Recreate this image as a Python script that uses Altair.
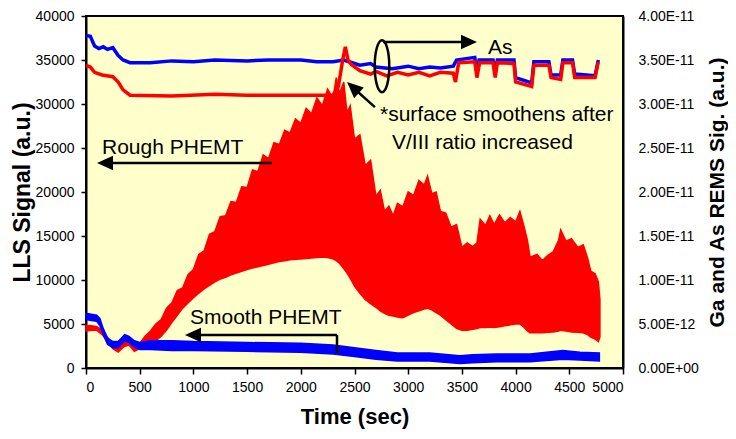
import altair as alt
import pandas as pd

# ---- LLS red (Rough PHEMT): envelope of the fast oscillation (left axis) ----
red_t  = [0, 50, 100, 150, 200, 250, 300, 350, 400, 450, 500, 550, 600, 650, 700, 750, 800,
          850, 900, 950, 1000, 1050, 1100, 1150, 1200, 1250, 1300, 1350, 1400, 1450, 1500,
          1550, 1600, 1650, 1700, 1750, 1800, 1850, 1900, 1950, 2000, 2050, 2100, 2150,
          2200, 2250, 2300, 2330, 2360, 2400, 2430, 2460, 2500, 2550, 2600, 2650, 2700,
          2740, 2780, 2820, 2860, 2900, 2950, 3000, 3050, 3100, 3150, 3180, 3220, 3260,
          3300, 3350, 3400, 3450, 3500, 3550, 3600, 3640, 3670, 3720, 3760, 3800, 3850,
          3900, 3950, 4000, 4040, 4080, 4110, 4135, 4200, 4250, 4300, 4350, 4400, 4420,
          4470, 4520, 4580, 4630, 4670, 4700, 4740, 4770, 4785]
red_lo = [4200, 4300, 4300, 3800, 3000, 2200, 1800, 2400, 2600, 1900, 2200, 2500, 2800,
          3100, 3600, 4300, 5200, 6000, 6800, 7400, 8000, 8500, 9000, 9400, 9800, 10100,
          10300, 10600, 10800, 11000, 11200, 11350, 11500, 11650, 11800, 11950, 12100,
          12200, 12300, 12350, 12400, 12450, 12500, 12550, 12600, 12550, 12400, 12200,
          11900, 11300, 10800, 10200, 9300, 8500, 7800, 7300, 6900, 6500, 6200, 6000,
          5900, 5800, 5700, 6000, 6300, 6500, 6700, 6800, 6600, 6300, 6000, 5500, 5000,
          4500, 4300, 4300, 4400, 4500, 4600, 4600, 4650, 4600, 4700, 4800, 4900, 5000,
          5000, 4600, 4200, 4000, 4000, 4000, 4050, 4100, 4200, 4300, 4200, 4100, 4050,
          4000, 3800, 3500, 3300, 3000, 3500]
red_hi = [4800, 4800, 4700, 4300, 3500, 2700, 2300, 2900, 3200, 2400, 2800, 3600, 4200,
          5000, 5500, 6800, 7400, 8800, 9100, 10600, 11200, 12900, 13300, 15200, 15500,
          17200, 17300, 18900, 18800, 20600, 20500, 22500, 22300, 24200, 23800, 25600,
          25400, 27000, 26700, 28300, 27800, 29500, 28900, 30700, 29800, 31700, 30600,
          33000, 31200, 32500, 29000, 29800, 26000, 26500, 23000, 23600, 19500, 20200,
          17800, 18400, 17300, 18700, 18300, 20000, 19600, 21300, 20800, 21800, 19800,
          20000, 17800, 17600, 16000, 16300, 13700, 14200, 13800, 14200, 16900, 16200,
          17300, 16300, 17400, 16500, 17100, 16600, 17800, 16000, 14500, 12600, 12900,
          12200, 12800, 13200, 14500, 15700, 14400, 14700, 13700, 14000, 12500, 11000,
          10700, 9800, 7800]

# ---- LLS blue (Smooth PHEMT) band (left axis) ----
blue_t  = [0, 50, 100, 130, 160, 200, 250, 300, 360, 400, 450, 500, 600, 800, 1000, 1500,
           2000, 2300, 2500, 2700, 2900, 3200, 3480, 3600, 3825, 4135, 4440, 4600, 4780]
blue_lo = [5500, 5400, 5300, 4800, 3800, 2700, 2300, 2300, 3100, 2900, 2400, 2100, 2100,
           2000, 2000, 1900, 1800, 1600, 1300, 1000, 800, 800, 500, 600, 700, 700, 1000,
           900, 800]
blue_hi = [6200, 6100, 6000, 5600, 4500, 3400, 3000, 3000, 3800, 3600, 3100, 2900, 3100,
           3100, 3000, 2900, 2800, 2600, 2300, 2000, 1700, 1700, 1400, 1500, 1600, 1600,
           2000, 1800, 1700]

# ---- REMS signals (right axis, units of 1E-11) ----
remsb_t = [0, 40, 80, 120, 160, 200, 250, 300, 345, 410, 600, 800, 1000, 1200, 1500, 1700,
           2000, 2150, 2300, 2400, 2450, 2550, 2650, 2700, 2850, 3000, 3100, 3200, 3300,
           3420, 3450, 3620, 3640, 3660, 3790, 3810, 3830, 3985, 4000, 4150, 4170, 4310,
           4330, 4420, 4440, 4530, 4550, 4740, 4770]
remsb_v = [3.78, 3.77, 3.66, 3.63, 3.65, 3.62, 3.64, 3.55, 3.50, 3.47, 3.47, 3.49, 3.48,
           3.50, 3.49, 3.50, 3.50, 3.48, 3.48, 3.50, 3.48, 3.44, 3.46, 3.42, 3.40, 3.43,
           3.40, 3.42, 3.41, 3.43, 3.50, 3.53, 3.35, 3.50, 3.50, 3.35, 3.50, 3.50, 3.30,
           3.24, 3.48, 3.48, 3.33, 3.33, 3.50, 3.50, 3.34, 3.32, 3.50]
remsr_t = [0, 40, 80, 150, 250, 300, 345, 410, 800, 1200, 1500, 2000, 2300, 2350, 2390,
           2415, 2440, 2470, 2550, 2650, 2700, 2800, 2900, 3000, 3100, 3200, 3300, 3420,
           3440, 3470, 3620, 3640, 3665, 3790, 3810, 3830, 3985, 4000, 4150, 4170, 4310,
           4330, 4420, 4440, 4530, 4550, 4740, 4770]
remsr_v = [3.44, 3.42, 3.36, 3.33, 3.31, 3.25, 3.16, 3.10, 3.09, 3.11, 3.10, 3.10, 3.10,
           3.20, 3.50, 3.65, 3.50, 3.45, 3.38, 3.34, 3.37, 3.32, 3.36, 3.33, 3.36, 3.32,
           3.36, 3.35, 3.25, 3.47, 3.48, 3.30, 3.47, 3.47, 3.30, 3.47, 3.46, 3.25, 3.20,
           3.44, 3.44, 3.30, 3.28, 3.47, 3.47, 3.30, 3.30, 3.48]

# ---- annotations (data units: time, LLS signal) ----
line_x  = [177, 996, 2337, 2765, 2690]
line_y  = [23300, 3750, 3750, 37040, 29650]
line_x2 = [1732, 2337, 2337, 3566, 2486]
line_y2 = [23300, 3750, 1700, 37040, 31880]

LEFT = "M-1,0 L1,-0.9 L1,0.9 Z"
RIGHT = "M1,0 L-1,-0.9 L-1,0.9 Z"
UP = "M0,-1 L-0.9,1 L0.9,1 Z"
head_x = [177, 996, 3566, 2486]
head_y = [23300, 3750, 37040, 31880]
head_shape = [LEFT, LEFT, RIGHT, UP]
head_angle = [0, 0, 0, 312]

ell_x = [2756]
ell_y = [34300]

txt_x = [149, 968, 3743, 2737, 2849]
txt_y = [25000, 5680, 36350, 28740, 25560]
txt_s = ["Rough PHEMT", "Smooth PHEMT", "As", "*surface smoothens after", "V/III ratio increased"]

FONT = "Liberation Sans"
XS = alt.Scale(domain=[0, 5000], nice=False, zero=False)
YL = alt.Scale(domain=[0, 40000], nice=False)
YR = alt.Scale(domain=[0, 4e-11], nice=False)

xaxis = alt.Axis(values=list(range(0, 5001, 500)), format="d", title="Time (sec)",
                 tickSize=6, labelPadding=6, titleY=48, titleBaseline="middle",
                 titleFontSize=22)
yaxis_l = alt.Axis(values=list(range(0, 40001, 5000)), format="d", title="LLS Signal (a.u.)",
                   tickSize=5, labelPadding=7, titleX=-64, titleY=176, titleAngle=270,
                   titleAlign="center", titleBaseline="middle")
yaxis_r = alt.Axis(values=[i * 5e-12 for i in range(9)], orient="right",
                   labelExpr="datum.value == 0 ? '0.00E+00' : replace(format(datum.value, '.2e'), 'e', 'E')",
                   title="Ga and As REMS Sig. (a.u.)", ticks=False, labelPadding=15,
                   titleX=94, titleY=176, titleAngle=270, titleAlign="center",
                   titleBaseline="middle", titleFontSize=21)

red_df = pd.DataFrame({"t": red_t, "lo": red_lo, "hi": red_hi})
blue_df = pd.DataFrame({"t": blue_t, "lo": blue_lo, "hi": blue_hi})
rb_df = pd.DataFrame({"t": remsb_t, "v": [v * 1e-11 for v in remsb_v]})
rr_df = pd.DataFrame({"t": remsr_t, "v": [v * 1e-11 for v in remsr_v]})
line_df = pd.DataFrame({"x": line_x, "y": line_y, "x2": line_x2, "y2": line_y2})
head_df = pd.DataFrame({"x": head_x, "y": head_y, "shape": head_shape, "angle": head_angle})
ell_df = pd.DataFrame({"x": ell_x, "y": ell_y})
txt_df = pd.DataFrame({"x": txt_x, "y": txt_y, "s": txt_s})

red_area = alt.Chart(red_df).mark_area(color="#FF0000", stroke="#FF0000", strokeWidth=1.5).encode(
    x=alt.X("t:Q", scale=XS, axis=xaxis),
    y=alt.Y("lo:Q", scale=YL, axis=yaxis_l),
    y2="hi:Q",
)
blue_area = alt.Chart(blue_df).mark_area(color="#0000FF", stroke="#0000FF", strokeWidth=1.5).encode(
    x=alt.X("t:Q", scale=XS),
    y=alt.Y("lo:Q", scale=YL, axis=None),
    y2="hi:Q",
)
rems_blue = alt.Chart(rb_df).mark_line(color="#0000FF", strokeWidth=3.5).encode(
    x=alt.X("t:Q", scale=XS),
    y=alt.Y("v:Q", scale=YR, axis=yaxis_r),
)
rems_red = alt.Chart(rr_df).mark_line(color="#FF0000", strokeWidth=3.5).encode(
    x=alt.X("t:Q", scale=XS),
    y=alt.Y("v:Q", scale=YR, axis=None),
)
lines = alt.Chart(line_df).mark_rule(color="black", strokeWidth=2.5).encode(
    x=alt.X("x:Q", scale=XS), x2="x2:Q",
    y=alt.Y("y:Q", scale=YL, axis=None), y2="y2:Q",
)
heads = alt.Chart(head_df).mark_point(filled=True, color="black", size=256, opacity=1).encode(
    x=alt.X("x:Q", scale=XS),
    y=alt.Y("y:Q", scale=YL, axis=None),
    shape=alt.Shape("shape:N", scale=None),
    angle=alt.Angle("angle:Q", scale=None),
)
ellipse = alt.Chart(ell_df).mark_point(
    shape="M0,-1 A0.28,1 0 1,1 0,1 A0.28,1 0 1,1 0,-1 Z",
    size=2704, filled=False, stroke="black", strokeWidth=2.5, opacity=1,
).encode(
    x=alt.X("x:Q", scale=XS),
    y=alt.Y("y:Q", scale=YL, axis=None),
)
texts = alt.Chart(txt_df).mark_text(align="left", baseline="middle", font=FONT,
                                     fontSize=21, color="black").encode(
    x=alt.X("x:Q", scale=XS),
    y=alt.Y("y:Q", scale=YL, axis=None),
    text="s:N",
)

chart = alt.layer(red_area, blue_area, rems_blue, rems_red, lines, heads, ellipse, texts).resolve_scale(
    y="independent"
).properties(
    width=537, height=352,
    autosize=alt.AutoSizeParams(type="none"),
    padding={"left": 78, "top": 8, "right": 105, "bottom": 63},
).configure_view(
    fill="#FFFFCC", stroke="black", strokeWidth=2,
).configure_axis(
    labelFont=FONT, labelFontSize=14, labelColor="black",
    titleFont=FONT, titleFontSize=23, titleFontWeight="bold", titleColor="black",
    domainColor="black", domainWidth=2, tickColor="black", tickWidth=1.5, grid=False,
)

chart.save("out.html", embed_options={"renderer": "svg", "actions": False})
